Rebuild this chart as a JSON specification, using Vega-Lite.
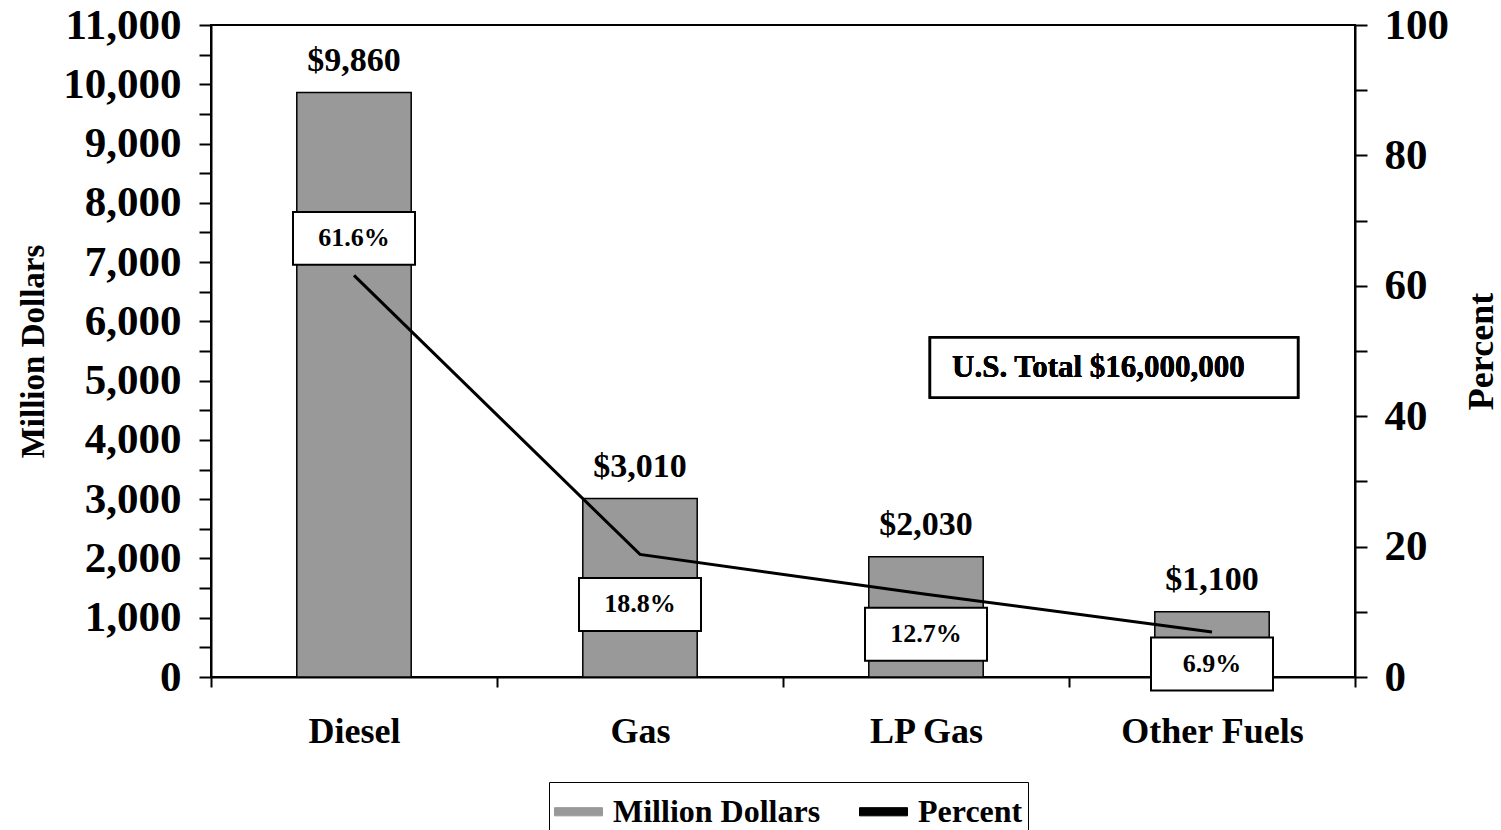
{
  "$schema": "https://vega.github.io/schema/vega-lite/v6.json",
  "autosize": {"type": "none"},
  "padding": {"left": 211, "top": 25, "right": 146, "bottom": 153},
  "width": 1144,
  "height": 652,
  "background": "white",
  "config": {
    "font": "Liberation Serif",
    "view": {"stroke": "black", "strokeWidth": 2},
    "axis": {
      "domainColor": "black", "domainWidth": 2,
      "tickColor": "black", "tickWidth": 2,
      "labelColor": "black", "titleColor": "black",
      "labelFont": "Liberation Serif", "titleFont": "Liberation Serif",
      "labelFontWeight": "bold", "titleFontWeight": "bold",
      "grid": false, "labelLimit": 400
    }
  },
  "data": {
    "values": [
      {"fuel": "Diesel", "million": 9860, "pct": 61.6, "pct_label": "61.6%"},
      {"fuel": "Gas", "million": 3010, "pct": 18.8, "pct_label": "18.8%"},
      {"fuel": "LP Gas", "million": 2030, "pct": 12.7, "pct_label": "12.7%"},
      {"fuel": "Other Fuels", "million": 1100, "pct": 6.9, "pct_label": "6.9%"}
    ]
  },
  "encoding": {
    "x": {
      "field": "fuel", "type": "nominal", "sort": null,
      "scale": {"paddingInner": 0, "paddingOuter": 0},
      "axis": {"title": null, "labelAngle": 0, "labelFontSize": 36, "tickBand": "extent", "tickSize": 10, "labelPadding": 27, "labelLimit": 400}
    }
  },
  "layer": [
    {
      "mark": {"type": "bar", "width": {"band": 0.4}, "stroke": "black", "strokeWidth": 1.5},
      "encoding": {
        "y": {
          "field": "million", "type": "quantitative",
          "scale": {"domain": [0, 11000], "nice": false},
          "axis": {
            "orient": "left",
            "title": "Million Dollars", "titleFontSize": 33, "titlePadding": 12,
            "values": [0, 500, 1000, 1500, 2000, 2500, 3000, 3500, 4000, 4500, 5000, 5500, 6000, 6500, 7000, 7500, 8000, 8500, 9000, 9500, 10000, 10500, 11000],
            "format": ",d",
            "labelExpr": "datum.value % 1000 === 0 ? datum.label : ''",
            "labelFontSize": 43, "labelPadding": 18, "tickSize": 12
          }
        },
        "color": {
          "datum": "Million Dollars", "type": "nominal",
          "scale": {"domain": ["Million Dollars", "Percent"], "range": ["#999999", "#000000"]},
          "legend": {
            "orient": "none", "legendX": 338, "legendY": 757,
            "direction": "horizontal", "title": null,
            "strokeColor": "black", "padding": 5,
            "labelFontSize": 32, "labelFontWeight": "bold", "labelFont": "Liberation Serif", "labelColor": "black", "labelLimit": 400,
            "symbolSize": 2304, "symbolType": "M-1,-0.17H1V0.17H-1Z",
            "symbolStrokeColor": "black", "symbolStrokeWidth": 1,
            "labelOffset": 10, "columnPadding": 36
          }
        }
      }
    },
    {
      "mark": {"type": "text", "baseline": "alphabetic", "dy": -22, "fontSize": 34, "fontWeight": "bold", "color": "black"},
      "encoding": {
        "y": {"field": "million", "type": "quantitative", "scale": {"domain": [0, 11000], "nice": false}, "axis": null},
        "text": {"field": "million", "type": "quantitative", "format": "$,.0f"}
      }
    },
    {
      "mark": {"type": "point", "shape": "M-1,-0.163H1V0.163H-1Z", "size": 135424, "filled": true, "fill": "white", "stroke": "black", "strokeWidth": 2.5, "opacity": 1, "xOffset": -98},
      "encoding": {
        "x": {"datum": "Other Fuels"},
        "y": {"datum": 5221, "type": "quantitative", "scale": {"domain": [0, 11000], "nice": false}, "axis": null}
      }
    },
    {
      "mark": {"type": "text", "align": "left", "baseline": "middle", "dx": -260, "fontSize": 31, "fontWeight": "bold", "color": "black", "text": "U.S. Total $16,000,000"},
      "encoding": {
        "x": {"datum": "Other Fuels"},
        "y": {"datum": 5221, "type": "quantitative", "scale": {"domain": [0, 11000], "nice": false}, "axis": null}
      }
    },
    {
      "mark": {"type": "line", "strokeWidth": 3},
      "encoding": {
        "y": {
          "field": "pct", "type": "quantitative",
          "scale": {"domain": [0, 100], "nice": false},
          "axis": {
            "orient": "right", "title": "Percent", "titleFontSize": 36, "titleAngle": 270, "titleBaseline": "top", "titlePadding": 16,
            "values": [0, 10, 20, 30, 40, 50, 60, 70, 80, 90, 100],
            "labelExpr": "datum.value % 20 === 0 ? datum.label : ''",
            "labelFontSize": 43, "labelPadding": 17, "tickSize": 12
          }
        },
        "color": {"datum": "Percent", "type": "nominal"}
      }
    },
    {
      "mark": {
        "type": "point", "shape": "M-1,-0.434H1V0.434H-1Z", "size": 14884, "filled": true, "fill": "white", "stroke": "black", "strokeWidth": 2, "opacity": 1,
        "yOffset": {"expr": "datum.fuel === 'Diesel' ? -37 : datum.fuel === 'Gas' ? 50 : datum.fuel === 'LP Gas' ? 40 : 32"}
      },
      "encoding": {
        "y": {"field": "pct", "type": "quantitative", "scale": {"domain": [0, 100], "nice": false}, "axis": null}
      }
    },
    {
      "mark": {
        "type": "text", "baseline": "middle", "fontSize": 26, "fontWeight": "bold", "color": "black",
        "yOffset": {"expr": "datum.fuel === 'Diesel' ? -37 : datum.fuel === 'Gas' ? 50 : datum.fuel === 'LP Gas' ? 40 : 32"}
      },
      "encoding": {
        "y": {"field": "pct", "type": "quantitative", "scale": {"domain": [0, 100], "nice": false}, "axis": null},
        "text": {"field": "pct_label"}
      }
    }
  ],
  "resolve": {"scale": {"y": "independent"}}
}
